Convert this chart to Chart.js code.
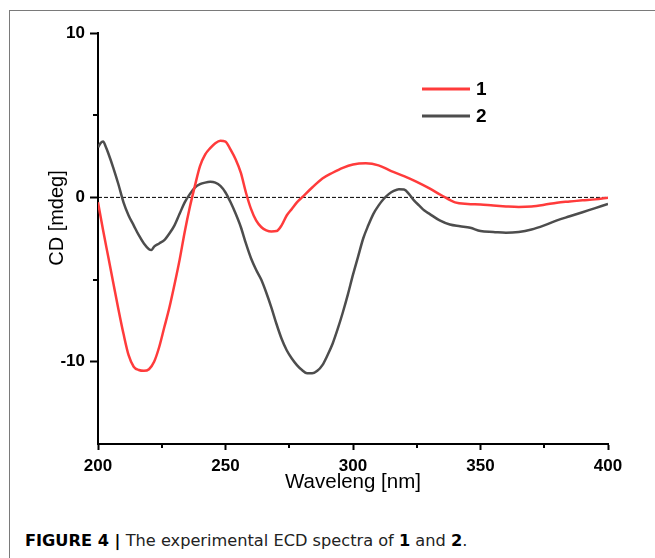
<!DOCTYPE html>
<html>
<head>
<meta charset="utf-8">
<script src="https://cdn.jsdelivr.net/npm/chart.js@4.4.1/dist/chart.umd.min.js"></script>
<style>
  html, body { margin: 0; padding: 0; background: #fff; }
  #wrap { position: relative; width: 655px; height: 558px; overflow: hidden; }
  #frame { position: absolute; left: 9px; top: 10px; width: 660px; height: 560px;
           border-left: 1px solid #7a7a7a; border-top: 1px solid #7a7a7a; }
  #chart { position: absolute; left: 0; top: 0; }
  #caption { position: absolute; left: 25px; top: 531px; line-height: 20px;
             font-family: "DejaVu Sans", sans-serif; font-size: 16.2px; color: #222; white-space: nowrap; }
  #caption b { color: #000; }
</style>
</head>
<body>
<div id="wrap">
  <div id="frame"></div>
  <canvas id="chart" width="655" height="510"></canvas>
  <div id="caption"><b>FIGURE 4 |</b> The experimental ECD spectra of <b>1</b> and <b>2</b>.</div>
</div>
<script>
// spectrum 1 (red)
const wave1 = [200, 202, 204, 206, 208, 210, 212, 214, 216, 218, 220, 222, 224, 226, 228, 230, 232, 234, 236, 238,
  240, 242, 244, 246, 248, 250, 252, 254, 256, 258, 260, 262, 264, 266, 268, 270, 272, 274, 276, 278,
  280, 284, 288, 292, 296, 300, 305, 310, 315, 320, 325, 330, 335, 340, 345, 350, 355, 360, 365, 370,
  375, 380, 385, 390, 395, 400];
const cd1 = [-0.3, -2.0, -3.6, -5.2, -6.8, -8.3, -9.6, -10.3, -10.5, -10.55, -10.45, -10.0, -9.1, -7.9, -6.7, -5.3, -3.8, -2.1, -0.6, 0.7,
  1.9, 2.6, 3.0, 3.3, 3.45, 3.4, 2.9, 2.3, 1.5, 0.3, -0.7, -1.4, -1.8, -2.0, -2.07, -2.05, -1.7, -1.1, -0.7, -0.3,
  0.0, 0.6, 1.15, 1.5, 1.8, 2.0, 2.07, 1.95, 1.6, 1.3, 0.95, 0.55, 0.1, -0.3, -0.4, -0.43, -0.5, -0.55, -0.58, -0.55,
  -0.45, -0.32, -0.25, -0.18, -0.12, -0.02];

// spectrum 2 (grey)
const wave2 = [200, 201, 202, 203, 204, 206, 208, 210, 212, 214, 216, 218, 220, 221, 222, 224, 226, 228, 230, 232,
  234, 236, 238, 240, 242, 244, 246, 248, 250, 252, 254, 256, 258, 260, 262, 264, 266, 268, 270, 272,
  274, 276, 278, 280, 282, 284, 286, 288, 290, 292, 294, 296, 298, 300, 302, 304, 306, 308, 310, 312,
  314, 316, 318, 320, 322, 324, 326, 328, 330, 334, 338, 342, 346, 350, 355, 360, 365, 370, 375, 380,
  385, 390, 395, 400];
const cd2 = [3.05, 3.3, 3.4, 3.1, 2.7, 1.8, 0.8, -0.3, -1.1, -1.7, -2.3, -2.8, -3.15, -3.2, -3.0, -2.8, -2.6, -2.2, -1.7, -1.0,
  -0.3, 0.2, 0.6, 0.8, 0.9, 0.95, 0.9, 0.7, 0.3, -0.3, -1.0, -1.8, -2.8, -3.7, -4.4, -5.0, -5.8, -6.7, -7.7, -8.6,
  -9.3, -9.8, -10.2, -10.5, -10.7, -10.7, -10.55, -10.2, -9.6, -8.9, -8.0, -7.0, -5.9, -4.7, -3.6, -2.5, -1.7, -1.0, -0.5, -0.1,
  0.2, 0.4, 0.5, 0.48, 0.2, -0.2, -0.5, -0.8, -1.0, -1.4, -1.65, -1.75, -1.85, -2.05, -2.1, -2.15, -2.1, -1.95, -1.7, -1.4,
  -1.15, -0.9, -0.65, -0.4];

// zero reference line
const zeroX = [200, 400];
const zeroY = [0, 0];

const seriesNames = ['1', '2'];
const xTitle = 'Waveleng [nm]';
const yTitle = 'CD [mdeg]';

const pts = (xs, ys) => xs.map((x, i) => ({x: x, y: ys[i]}));

// short ticks for the unlabeled steps
const minorTicks = {
  id: 'minorTicks',
  afterDraw(chart) {
    const {ctx, scales: {x, y}, chartArea: a} = chart;
    ctx.save();
    ctx.strokeStyle = '#000';
    ctx.lineWidth = 2;
    x.ticks.forEach(t => {
      if (t.value % 50 !== 0) {
        const px = Math.round(x.getPixelForValue(t.value));
        ctx.beginPath(); ctx.moveTo(px, a.bottom); ctx.lineTo(px, a.bottom + 4); ctx.stroke();
      }
    });
    y.ticks.forEach(t => {
      if (t.value % 10 !== 0 && t.value > y.min) {
        const py = Math.round(y.getPixelForValue(t.value));
        ctx.beginPath(); ctx.moveTo(a.left - 5, py); ctx.lineTo(a.left, py); ctx.stroke();
      }
    });
    ctx.restore();
  }
};

// y title sits a bit above the middle in the original
const yTitlePlugin = {
  id: 'yTitle',
  afterDraw(chart) {
    const ctx = chart.ctx;
    ctx.save();
    ctx.translate(57, 218);
    ctx.rotate(-Math.PI / 2);
    ctx.font = '20px "Liberation Sans", Arial, sans-serif';
    ctx.fillStyle = '#000';
    ctx.textAlign = 'center';
    ctx.textBaseline = 'middle';
    ctx.fillText(yTitle, 0, 0);
    ctx.restore();
  }
};

// legend inside the plot, top right
const legendPlugin = {
  id: 'innerLegend',
  afterDraw(chart) {
    const ctx = chart.ctx;
    const rows = [89, 116];
    ctx.save();
    chart.data.datasets.slice(0, 2).forEach((ds, i) => {
      ctx.strokeStyle = ds.borderColor;
      ctx.lineWidth = 3;
      ctx.beginPath(); ctx.moveTo(422, rows[i]); ctx.lineTo(470, rows[i]); ctx.stroke();
      ctx.fillStyle = '#000';
      ctx.font = 'bold 19px "Liberation Sans", Arial, sans-serif';
      ctx.textAlign = 'left';
      ctx.textBaseline = 'middle';
      ctx.fillText(ds.label, 476, rows[i] + 1);
    });
    ctx.restore();
  }
};

const tickFont = {family: '"Liberation Sans", Arial, sans-serif', size: 17, weight: 'bold'};

new Chart(document.getElementById('chart'), {
  type: 'line',
  data: {
    datasets: [
      {label: seriesNames[0], data: pts(wave1, cd1), borderColor: '#ff3b3b', borderWidth: 2.5,
       pointRadius: 0, cubicInterpolationMode: 'monotone', order: 1},
      {label: seriesNames[1], data: pts(wave2, cd2), borderColor: '#4d4d4d', borderWidth: 2.5,
       pointRadius: 0, cubicInterpolationMode: 'monotone', order: 2},
      {label: 'zero', data: pts(zeroX, zeroY), borderColor: '#000', borderWidth: 1,
       borderDash: [4, 2], pointRadius: 0, order: 3}
    ]
  },
  options: {
    responsive: false,
    animation: false,
    layout: {padding: {left: 0, top: 33, right: 47, bottom: 0}},
    plugins: {legend: {display: false}, tooltip: {enabled: false}},
    scales: {
      x: {
        type: 'linear', min: 200, max: 400,
        afterFit(s) { s.height = 66; },
        border: {display: true, color: '#000', width: 2},
        grid: {drawOnChartArea: false, drawTicks: true, tickLength: 6, tickWidth: 2,
               tickColor: c => (c.tick && c.tick.value % 50 === 0) ? '#000' : 'rgba(0,0,0,0)'},
        ticks: {stepSize: 25, autoSkip: false, maxRotation: 0, padding: 6, color: '#000', font: tickFont,
                callback: v => v % 50 === 0 ? v : ''},
        title: {display: true, text: xTitle, color: '#000',
                font: {family: '"Liberation Sans", Arial, sans-serif', size: 20.5, lineHeight: 1.2},
                padding: {top: 0, bottom: 15}}
      },
      y: {
        type: 'linear', min: -15, max: 10,
        afterFit(s) { s.width = 98; },
        border: {display: true, color: '#000', width: 2},
        grid: {drawOnChartArea: false, drawTicks: true, tickLength: 8, tickWidth: 2,
               tickColor: c => (c.tick && c.tick.value % 10 === 0) ? '#000' : 'rgba(0,0,0,0)'},
        ticks: {stepSize: 5, autoSkip: false, padding: 5, color: '#000', font: tickFont,
                callback: v => v % 10 === 0 ? v : ''}
      }
    }
  },
  plugins: [minorTicks, yTitlePlugin, legendPlugin]
});
</script>
</body>
</html>
